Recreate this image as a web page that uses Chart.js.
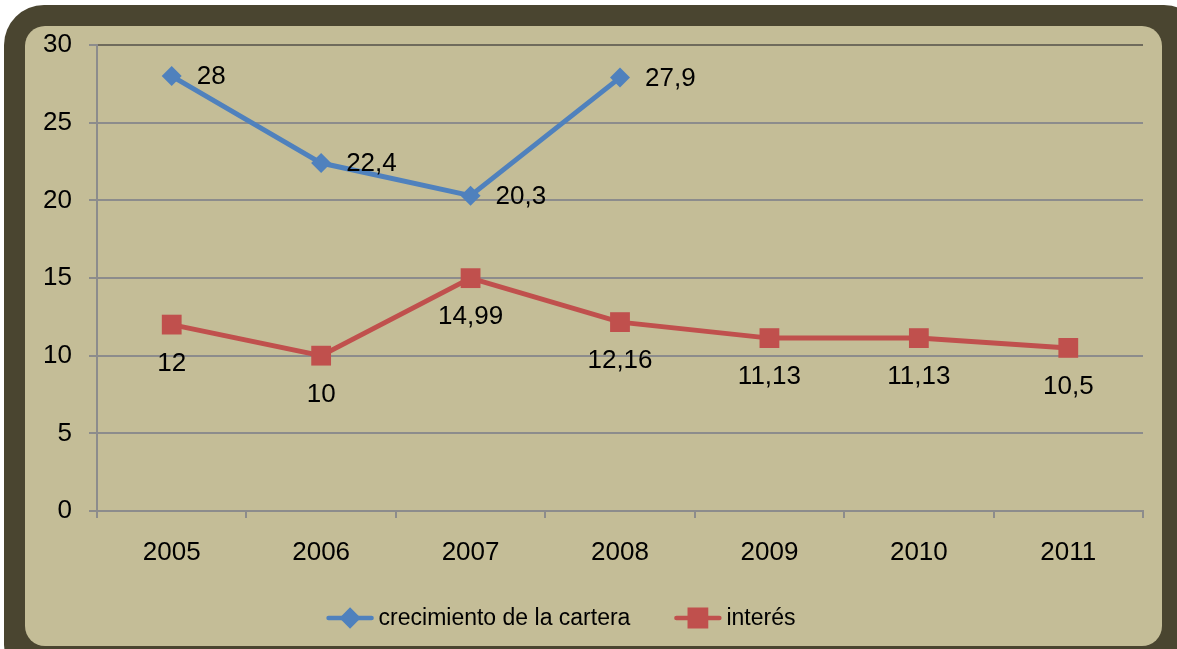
<!DOCTYPE html>
<html>
<head>
<meta charset="utf-8">
<script src="https://cdn.jsdelivr.net/npm/chart.js@4/dist/chart.umd.min.js"></script>
<style>
  html, body { margin: 0; padding: 0; background: #ffffff; width: 1177px; height: 649px; overflow: hidden; }
  #outer { position: absolute; left: 4px; top: 5px; width: 1200px; height: 680px; background: #4a4530; border-radius: 40px; }
  #inner { position: absolute; left: 25px; top: 26px; width: 1137px; height: 620px; background: #c4bd97; border-radius: 20px; }
  #wrap { position: absolute; left: 0; top: 0; width: 1177px; height: 649px; }
</style>
</head>
<body>
<div id="outer"></div>
<div id="inner"></div>
<div id="wrap"><canvas id="c" width="1177" height="649"></canvas></div>
<script>
const categories = ['2005', '2006', '2007', '2008', '2009', '2010', '2011'];
const crecimiento = [28, 22.4, 20.3, 27.9, null, null, null];
const interes = [12, 10, 14.99, 12.16, 11.13, 11.13, 10.5];
const seriesNames = ['crecimiento de la cartera', 'interés'];
const yTicks = [0, 5, 10, 15, 20, 25, 30];

const FONT = '"Liberation Sans", Arial, sans-serif';
const BLUE = '#4f81bd';
const RED = '#c0504d';
const GRID = '#8c8c8c';

function fmt(v) { return String(v).replace('.', ','); }

const labelPlugin = {
  id: 'valueLabels',
  afterDatasetsDraw(chart) {
    const ctx = chart.ctx;
    ctx.save();
    ctx.font = '26px ' + FONT;
    ctx.fillStyle = '#000';
    ctx.textBaseline = 'middle';
    chart.data.datasets.forEach((ds, di) => {
      const meta = chart.getDatasetMeta(di);
      meta.data.forEach((pt, i) => {
        const v = ds.data[i];
        if (v === null || v === undefined) return;
        if (di === 0) {
          ctx.textAlign = 'left';
          ctx.fillText(fmt(v), pt.x + 25, pt.y + 1);
        } else {
          ctx.textAlign = 'center';
          ctx.fillText(fmt(v), pt.x, pt.y + 39);
        }
      });
    });
    ctx.restore();
  }
};

const legendPlugin = {
  id: 'customLegend',
  afterDraw(chart) {
    const ctx = chart.ctx;
    ctx.save();
    ctx.font = '23px ' + FONT;
    const iconW = 47, gap = 5, itemGap = 44;
    const items = chart.data.datasets.map(ds => ({
      text: ds.label, color: ds.borderColor, style: ds.pointStyle,
      w: iconW + gap + ctx.measureText(ds.label).width
    }));
    const total = items.reduce((s, it) => s + it.w, 0) + itemGap * (items.length - 1);
    let x = 561 - total / 2;
    const y = 618;
    items.forEach(it => {
      ctx.strokeStyle = it.color;
      ctx.lineWidth = 4.5;
      ctx.lineCap = 'round';
      ctx.beginPath();
      ctx.moveTo(x + 2, y);
      ctx.lineTo(x + iconW - 2, y);
      ctx.stroke();
      Chart.helpers.drawPoint(ctx, {
        pointStyle: it.style, radius: it.style === 'rect' ? 11.5 : 7.5, borderWidth: 1
      }, x + iconW / 2, y);
      ctx.fillStyle = it.color;
      ctx.fill();
      ctx.fillStyle = '#000';
      ctx.textAlign = 'left';
      ctx.textBaseline = 'middle';
      ctx.fillText(it.text, x + iconW + gap, y + 1);
      x += it.w + itemGap;
    });
    ctx.restore();
  }
};

new Chart(document.getElementById('c'), {
  type: 'line',
  data: {
    labels: categories,
    datasets: [
      {
        label: seriesNames[0], data: crecimiento,
        borderColor: BLUE, backgroundColor: BLUE, borderWidth: 5,
        pointStyle: 'rectRot', pointRadius: 10, pointBorderWidth: 0,
        pointBackgroundColor: BLUE, tension: 0, spanGaps: false
      },
      {
        label: seriesNames[1], data: interes,
        borderColor: RED, backgroundColor: RED, borderWidth: 5,
        pointStyle: 'rect', pointRadius: 14, pointBorderWidth: 0,
        pointBackgroundColor: RED, tension: 0
      }
    ]
  },
  options: {
    responsive: false,
    animation: false,
    devicePixelRatio: 1,
    layout: { padding: { left: 30, right: 34, top: 45, bottom: 78 } },
    plugins: { legend: { display: false }, tooltip: { enabled: false } },
    scales: {
      x: {
        offset: true,
        grid: {
          offset: true,
          color: c => (c.index === categories.length ? '#6f6b5c' : 'rgba(0,0,0,0)'),
          tickColor: GRID, tickLength: 7, lineWidth: 2
        },
        border: { display: true, color: GRID, width: 2 },
        ticks: { color: '#000', font: { family: FONT, size: 26 }, padding: 19, maxRotation: 0 },
        afterFit: s => { s.height = 60; }
      },
      y: {
        min: 0, max: 30,
        afterBuildTicks: s => { s.ticks = yTicks.map(v => ({ value: v })); },
        grid: {
          color: c => (c.tick && c.tick.value === 30 ? '#6f6b5c' : GRID),
          tickColor: GRID, tickLength: 8, lineWidth: 2
        },
        border: { display: true, color: GRID, width: 2 },
        ticks: { color: '#000', font: { family: FONT, size: 26 }, padding: 17 },
        afterFit: s => { s.width = 67; }
      }
    }
  },
  plugins: [labelPlugin, legendPlugin]
});
</script>
</body>
</html>
